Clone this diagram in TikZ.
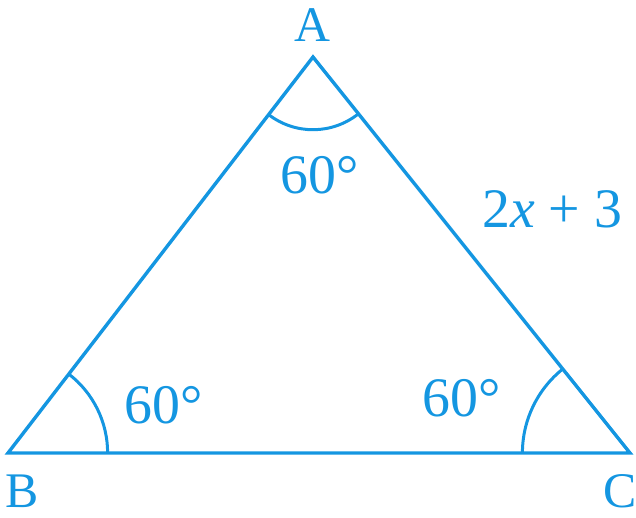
\documentclass[tikz,border=0pt]{standalone}
\usepackage{fontspec}
\setmainfont{Liberation Serif}
\usetikzlibrary{angles}
\definecolor{ink}{RGB}{20,150,225}
\begin{document}
\begin{tikzpicture}[x=1bp,y=1bp,
  edge/.style={draw=ink,line width=3.4bp,line join=miter},
  arcline/.style={draw=ink,line width=3bp},
  lbl/.style={text=ink,font=\fontsize{50}{56}\selectfont,inner sep=0pt},
  ang/.style={text=ink,font=\fontsize{56}{60}\selectfont,inner sep=0pt}]
\useasboundingbox (0,0) rectangle (636,518);
\clip (0,0) rectangle (636,518);
\coordinate (A) at (313,461);
\coordinate (B) at (8,65);
\coordinate (C) at (630,65);
\draw[edge] (A) -- (B) -- (C) -- cycle;
\pic[arcline, angle radius=73] {angle = B--A--C};
\pic[arcline, angle radius=100] {angle = C--B--A};
\pic[arcline, angle radius=108] {angle = A--C--B};
\node[lbl] (la) at (312,493) {A};
\node[lbl] (lb) at (22,27) {B};
\node[lbl] (lc) at (620,27) {C};
\node[ang] (aa) at (320,343) {60°};
\node[ang] (ab) at (164,113) {60°};
\node[ang] (ac) at (462,120) {60°};
\node[ang,anchor=west] (side) at (482,309) {2\textit{x} + 3};
\end{tikzpicture}
\end{document}
